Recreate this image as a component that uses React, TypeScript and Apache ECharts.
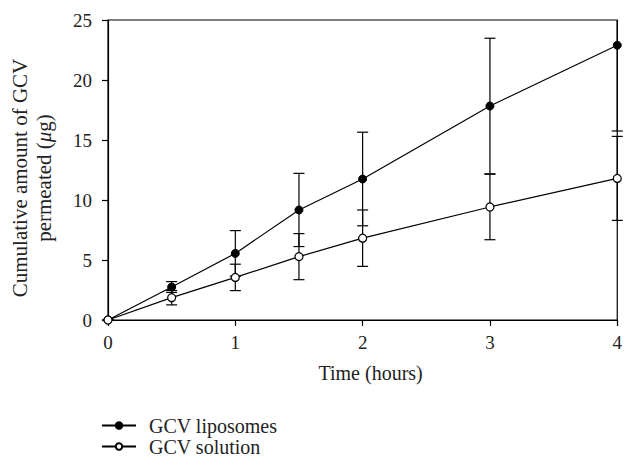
import React, { useEffect, useRef } from "react";
import * as echarts from "echarts";

const times = [0, 0.5, 1, 1.5, 2, 3, 4];
const liposomes = [0, 2.75, 5.55, 9.17, 11.75, 17.83, 22.9];
const liposomesErr = [0, 0.45, 1.9, 3.05, 3.9, 5.65, 7.15];
const solution = [0, 1.86, 3.55, 5.28, 6.82, 9.42, 11.8];
const solutionErr = [0, 0.6, 1.1, 1.92, 2.35, 2.73, 3.5];
const xTicks = [0, 1, 2, 3, 4];
const yTicks = [0, 5, 10, 15, 20, 25];

const FONT = "'Liberation Serif', 'DejaVu Serif', serif";
const TXT = "#222";

function errData(vals: number[], errs: number[]) {
  return times.map((t, i) => [t, vals[i] - errs[i], vals[i] + errs[i]]);
}

function renderErr(params: any, api: any) {
  const cs = params.coordSys;
  const x = api.value(0);
  const lo = api.coord([x, api.value(1)]);
  const hi = api.coord([x, api.value(2)]);
  const top = cs.y;
  const bottom = cs.y + cs.height;
  const px = lo[0];
  const y1 = Math.min(lo[1], bottom);
  const y2 = Math.max(hi[1], top);
  const children: any[] = [];
  const style = { stroke: "#000", lineWidth: 1.2 };
  children.push({ type: "line", shape: { x1: px, y1, x2: px, y2 }, style });
  const cw = 5.5;
  if (lo[1] <= bottom) {
    children.push({ type: "line", shape: { x1: px - cw, y1: lo[1], x2: px + cw, y2: lo[1] }, style });
  }
  if (hi[1] >= top) {
    children.push({ type: "line", shape: { x1: px - cw, y1: hi[1], x2: px + cw, y2: hi[1] }, style });
  }
  return { type: "group", children };
}

export default function App() {
  const ref = useRef<HTMLDivElement>(null);
  useEffect(() => {
    if (!ref.current) return;
    const chart = echarts.init(ref.current, undefined, { renderer: "svg" });
    chart.setOption({
      animation: false,
      backgroundColor: "#fff",
      textStyle: { fontFamily: FONT },
      grid: {
        left: 107,
        right: 6,
        top: 20,
        bottom: 141,
        show: true,
        borderColor: "#000",
        borderWidth: 1.2,
        backgroundColor: "transparent",
      },
      legend: {
        orient: "vertical",
        left: 101,
        top: 415,
        height: 46,
        padding: 0,
        itemWidth: 34,
        itemHeight: 8,
        itemGap: 0,
        textStyle: { fontFamily: FONT, fontSize: 20, color: TXT, lineHeight: 21, padding: [0, 0, 0, 8] },
        data: ["GCV liposomes", "GCV solution"],
      },
      xAxis: {
        type: "value",
        min: 0,
        max: 4,
        interval: 1,
        name: "Time (hours)",
        nameLocation: "middle",
        nameGap: 43,
        nameTextStyle: { fontFamily: FONT, fontSize: 20, color: TXT, padding: [0, 0, 0, 16] },
        axisLine: { show: true, lineStyle: { color: "#000", width: 1.2 } },
        axisTick: { show: true, length: 6, lineStyle: { color: "#000", width: 1.2 } },
        axisLabel: {
          fontFamily: FONT,
          fontSize: 19,
          color: TXT,
          margin: 13,
          formatter: (v: number) => (xTicks.includes(v) ? String(v) : ""),
        },
        splitLine: { show: false },
      },
      yAxis: {
        type: "value",
        min: 0,
        max: 25,
        interval: 5,
        name: "Cumulative amount of GCV\npermeated ({i|μ}g)",
        nameLocation: "middle",
        nameGap: 52,
        nameTextStyle: {
          fontFamily: FONT,
          fontSize: 21,
          color: TXT,
          lineHeight: 24,
          padding: [0, 16, 0, 0],
          rich: { i: { fontFamily: FONT, fontSize: 21, fontStyle: "italic", color: TXT, lineHeight: 24 } },
        },
        axisLine: { show: true, lineStyle: { color: "#000", width: 1.2 } },
        axisTick: { show: true, length: 6, lineStyle: { color: "#000", width: 1.2 } },
        axisLabel: {
          fontFamily: FONT,
          fontSize: 19,
          color: TXT,
          margin: 16,
          formatter: (v: number) => (yTicks.includes(v) ? String(v) : ""),
        },
        splitLine: { show: false },
      },
      series: [
        {
          type: "custom",
          name: "errL",
          renderItem: renderErr,
          data: errData(liposomes, liposomesErr),
          z: 1,
          silent: true,
        },
        {
          type: "custom",
          name: "errS",
          renderItem: renderErr,
          data: errData(solution, solutionErr),
          z: 1,
          silent: true,
        },
        {
          type: "line",
          name: "GCV liposomes",
          data: times.map((t, i) => [t, liposomes[i]]),
          symbol: "circle",
          symbolSize: 8,
          showAllSymbol: true,
          clip: false,
          lineStyle: { color: "#000", width: 1.2 },
          itemStyle: { color: "#000", borderColor: "#000", borderWidth: 1 },
          z: 3,
        },
        {
          type: "line",
          name: "GCV solution",
          data: times.map((t, i) => [t, solution[i]]),
          symbol: "circle",
          symbolSize: 8,
          showAllSymbol: true,
          clip: false,
          lineStyle: { color: "#000", width: 1.2 },
          itemStyle: { color: "#fff", borderColor: "#000", borderWidth: 1.2 },
          z: 4,
        },
      ],
    });
    return () => chart.dispose();
  }, []);
  return (
    <div
      ref={ref}
      style={{ position: "fixed", left: 0, top: 0, width: 625, height: 461 }}
    />
  );
}
